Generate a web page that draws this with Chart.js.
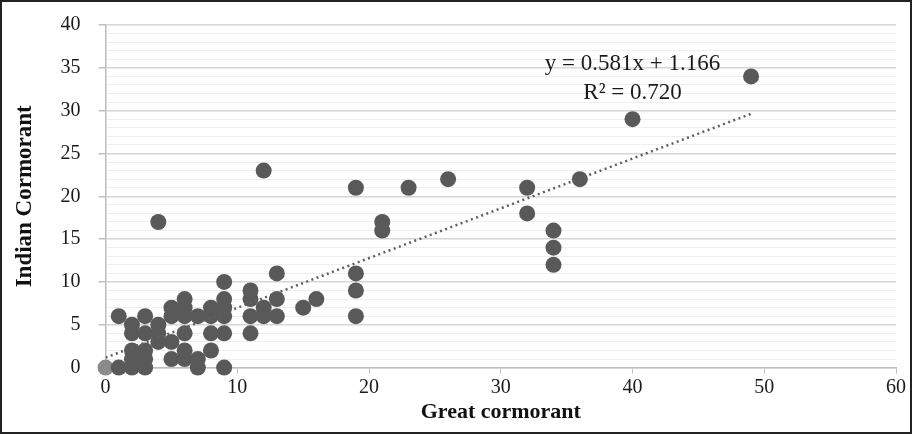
<!DOCTYPE html>
<html>
<head>
<meta charset="utf-8">
<script src="https://cdn.jsdelivr.net/npm/chart.js@4.4.1/dist/chart.umd.min.js"></script>
<style>
  html, body { margin: 0; padding: 0; background: #fff; }
  .frame { width: 908px; height: 430px; border: 2px solid #222; position: relative; }
  canvas { display: block; }
</style>
</head>
<body>
<div class="frame"><canvas id="scatterChart" width="908" height="430"></canvas></div>
<script>
// Great cormorant (x) vs Indian cormorant (y) counts
const greatCormorant = [0, 1, 1, 2, 2, 2, 2, 2, 3, 3, 3, 3, 3, 4, 4, 4, 4, 5, 5, 5, 5,
    6, 6, 6, 6, 6, 6, 7, 7, 7, 8, 8, 8, 8, 9, 9, 9, 9, 9, 9,
    11, 11, 11, 11, 12, 12, 12, 13, 13, 13, 15, 16, 19, 19, 19, 19,
    21, 21, 23, 26, 32, 32, 34, 34, 34, 36, 40, 49];
const indianCormorant = [0, 0, 6, 0, 1, 2, 4, 5, 0, 1, 2, 4, 6, 3, 4, 5, 17, 1, 3, 6, 7,
    1, 2, 4, 6, 7, 8, 0, 1, 6, 2, 4, 6, 7, 0, 4, 6, 7, 8, 10,
    4, 6, 8, 9, 6, 7, 23, 6, 8, 11, 7, 8, 6, 9, 11, 21,
    16, 17, 21, 22, 18, 21, 12, 14, 16, 22, 29, 34];

// trendline as printed on the chart
const slope = 0.581;
const intercept = 1.166;
const trendRange = [0, 49];
const equationLines = ['y = 0.581x + 1.166', 'R² = 0.720'];

const points = greatCormorant.map((x, i) => ({ x: x, y: indianCormorant[i] }));
const trend = trendRange.map(x => ({ x: x, y: slope * x + intercept }));

const equationLabel = {
    id: 'equationLabel',
    afterDatasetsDraw(chart) {
        const { ctx, scales } = chart;
        const cx = scales.x.getPixelForValue(40.0);
        ctx.save();
        ctx.fillStyle = '#1a1a1a';
        ctx.font = '23px "Liberation Serif", serif';
        ctx.textAlign = 'center';
        ctx.textBaseline = 'middle';
        ctx.fillText(equationLines[0], cx, scales.y.getPixelForValue(35.45));
        ctx.fillText(equationLines[1], cx, scales.y.getPixelForValue(32.07));
        ctx.restore();
    }
};

const serif = '"Liberation Serif", "Times New Roman", serif';

new Chart(document.getElementById('scatterChart').getContext('2d'), {
    type: 'scatter',
    data: {
        datasets: [{
            type: 'line',
            data: trend,
            borderColor: '#5f5f5f',
            borderWidth: 2.5,
            borderDash: [2, 3.5],
            pointRadius: 0,
            fill: false,
            order: 0
        }, {
            data: points,
            pointRadius: 8,
            pointBackgroundColor: ctx => ctx.dataIndex === 0 ? '#8a8a8a' : '#595959',
            pointBorderWidth: 0,
            clip: false,
            order: 1
        }]
    },
    options: {
        responsive: false,
        animation: false,
        layout: { padding: { top: 0, right: 14, left: 5, bottom: 6 } },
        plugins: {
            legend: { display: false },
            tooltip: { enabled: false }
        },
        scales: {
            x: {
                min: 0,
                max: 60,
                ticks: {
                    stepSize: 10,
                    color: '#1a1a1a',
                    font: { family: serif, size: 20 },
                    padding: 2
                },
                grid: {
                    display: true,
                    drawOnChartArea: false,
                    tickLength: 6,
                    color: '#bfbfbf'
                },
                border: { color: '#bfbfbf', width: 1.5 },
                title: {
                    display: true,
                    text: 'Great cormorant',
                    color: '#111',
                    font: { family: serif, size: 22, weight: 'bold' },
                    padding: { top: -2, bottom: 0 }
                }
            },
            y: {
                min: 0,
                max: 40,
                afterFit: scale => { scale.paddingTop = 23; },
                ticks: {
                    stepSize: 1,
                    autoSkip: false,
                    color: '#1a1a1a',
                    font: { family: serif, size: 20 },
                    padding: 18,
                    callback: v => v % 5 === 0 ? v : ''
                },
                grid: {
                    tickLength: 7,
                    color: c => c.tick && c.tick.value % 5 === 0 ? '#d6d6d6' : '#eeeeee',
                    tickColor: c => c.tick && c.tick.value % 5 === 0 ? '#bfbfbf' : 'rgba(0,0,0,0)',
                    lineWidth: c => c.tick && c.tick.value % 5 === 0 ? 1.5 : 1
                },
                border: { color: '#bfbfbf', width: 1.5 },
                title: {
                    display: true,
                    text: 'Indian Cormorant',
                    color: '#111',
                    font: { family: serif, size: 23, weight: 'bold' },
                    padding: { top: 4, bottom: 4 }
                }
            }
        }
    },
    plugins: [equationLabel]
});
</script>
</body>
</html>
